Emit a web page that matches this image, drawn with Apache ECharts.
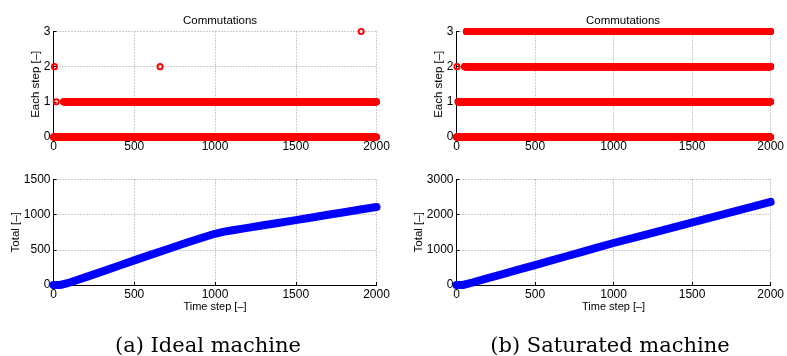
<!DOCTYPE html>
<html>
<head>
<meta charset="utf-8">
<script src="https://cdn.jsdelivr.net/npm/echarts@6/dist/echarts.min.js"></script>
<style>
  html, body { margin: 0; padding: 0; background: #fff; }
  #chart { width: 787px; height: 356px; }
</style>
</head>
<body>
<div id="chart"></div>
<script>
// Commutations per time step, as runs of consecutive steps: [level, firstStep, lastStep]
const idealRuns = [
  [0, 0, 2000],
  [1, 17, 17],
  [1, 62, 2000],
  [2, 6, 6],
  [2, 660, 660],
  [3, 1905, 1905]
];
const saturatedRuns = [
  [0, 0, 2000],
  [1, 10, 2000],
  [2, 3, 3],
  [2, 52, 2000],
  [3, 63, 2000]
];

// Running total of commutations, sampled along the time axis
const idealTotalSteps = [0, 40, 100, 200, 300, 400, 500, 600, 700, 800, 900, 1000, 1050, 1100, 1200, 1300, 1400, 1500, 1600, 1700, 1800, 1900, 2000];
const idealTotalValues = [0, 0, 35, 112, 190, 270, 350, 428, 505, 583, 658, 728, 755, 775, 812, 850, 886, 922, 960, 998, 1035, 1073, 1110];
const saturatedTotalSteps = [0, 40, 100, 200, 300, 400, 500, 600, 700, 800, 900, 1000, 1200, 1400, 1600, 1800, 2000];
const saturatedTotalValues = [0, 0, 68, 193, 318, 443, 568, 693, 818, 943, 1068, 1195, 1428, 1662, 1897, 2130, 2362];

// Axis ranges and labels
const stepMax = 2000, stepInterval = 500;
const eachStepMax = 3, eachStepInterval = 1;
const idealTotalMax = 1500, idealTotalInterval = 500;
const saturatedTotalMax = 3000, saturatedTotalInterval = 1000;
const topTitle = 'Commutations';
const eachStepName = 'Each step [–]';
const totalName = 'Total [–]';
const stepName = 'Time step [–]';
const captions = ['(a) Ideal machine', '(b) Saturated machine'];

function expandRuns(runs) {
  const pts = [];
  for (const [level, first, last] of runs) {
    for (let s = first; s <= last; s++) pts.push([s, level]);
  }
  return pts;
}
function pairs(xs, ys) { return xs.map((x, i) => [x, ys[i]]); }
const plain = v => String(v);

const sans = '"Liberation Sans", Arial, sans-serif';
const gridPos = [
  { left: 53.5, top: 31.5, width: 323, height: 105.5 },
  { left: 53.5, top: 179.5, width: 323, height: 105.5 },
  { left: 456.5, top: 31.5, width: 323, height: 105.5 },
  { left: 456.5, top: 179.5, width: 323, height: 105.5 }
];

function xAxisFor(i, named) {
  return {
    type: 'value', gridIndex: i, min: 0, max: stepMax, interval: stepInterval,
    name: named ? stepName : '', nameLocation: 'middle', nameGap: 16.5, nameMoveOverlap: false,
    nameTextStyle: { fontFamily: sans, fontSize: 11, color: '#000' },
    axisLine: { show: true, onZero: false, lineStyle: { color: '#000', width: 1 } },
    axisTick: { show: true, inside: true, length: 3, lineStyle: { color: '#000' } },
    axisLabel: { fontFamily: sans, fontSize: 12, color: '#000', margin: 4, formatter: plain, showMaxLabel: true, showMinLabel: true },
    splitLine: { show: true, lineStyle: { color: '#9a9a9a', type: [1, 2], width: 1 } }
  };
}
function yAxisFor(i, max, interval, name, gap) {
  return {
    type: 'value', gridIndex: i, min: 0, max: max, interval: interval,
    name: name, nameLocation: 'middle', nameGap: gap, nameRotate: 90, nameMoveOverlap: false,
    nameTextStyle: { fontFamily: sans, fontSize: 11.5, color: '#000' },
    axisLine: { show: true, onZero: false, lineStyle: { color: '#000', width: 1 } },
    axisTick: { show: true, inside: true, length: 3, lineStyle: { color: '#000' } },
    axisLabel: { fontFamily: sans, fontSize: 12, color: '#000', margin: 3, formatter: plain, showMaxLabel: true, showMinLabel: true },
    splitLine: { show: true, lineStyle: { color: '#9a9a9a', type: [1, 2], width: 1 } }
  };
}

function stepSeries(i, runs) {
  return {
    type: 'scatter', xAxisIndex: i, yAxisIndex: i, clip: false, silent: true,
    symbol: 'circle', symbolSize: 5.2,
    itemStyle: { color: 'rgba(0,0,0,0)', borderColor: '#ff0000', borderWidth: 1.9, opacity: 1 },
    data: expandRuns(runs), animation: false
  };
}
function totalSeries(i, xs, ys) {
  return {
    type: 'line', xAxisIndex: i, yAxisIndex: i, clip: false, silent: true,
    showSymbol: false, symbol: 'none', smooth: false,
    lineStyle: { color: '#0000ff', width: 8, cap: 'round', join: 'round' },
    data: pairs(xs, ys), animation: false
  };
}

const titleStyle = { fontFamily: sans, fontSize: 11.5, fontWeight: 'normal', color: '#000' };
const captionStyle = { fontFamily: '"DejaVu Serif", serif', fontSize: 21, fontWeight: 'normal', color: '#000' };

const chart = echarts.init(document.getElementById('chart'), null, { renderer: 'canvas' });
chart.setOption({
  animation: false,
  backgroundColor: '#fff',
  title: [
    { text: topTitle, left: 215, top: 10, textAlign: 'center', textStyle: titleStyle },
    { text: topTitle, left: 618, top: 10, textAlign: 'center', textStyle: titleStyle },
    { text: captions[0], left: 203, top: 331, textAlign: 'center', textStyle: captionStyle },
    { text: captions[1], left: 605, top: 331, textAlign: 'center', textStyle: captionStyle }
  ],
  grid: gridPos.map(g => Object.assign({ containLabel: false }, g)),
  xAxis: [xAxisFor(0, false), xAxisFor(1, true), xAxisFor(2, false), xAxisFor(3, true)],
  yAxis: [
    yAxisFor(0, eachStepMax, eachStepInterval, eachStepName, 12),
    yAxisFor(1, idealTotalMax, idealTotalInterval, totalName, 32),
    yAxisFor(2, eachStepMax, eachStepInterval, eachStepName, 12),
    yAxisFor(3, saturatedTotalMax, saturatedTotalInterval, totalName, 32)
  ],
  series: [
    stepSeries(0, idealRuns),
    totalSeries(1, idealTotalSteps, idealTotalValues),
    stepSeries(2, saturatedRuns),
    totalSeries(3, saturatedTotalSteps, saturatedTotalValues)
  ]
});
</script>
</body>
</html>
